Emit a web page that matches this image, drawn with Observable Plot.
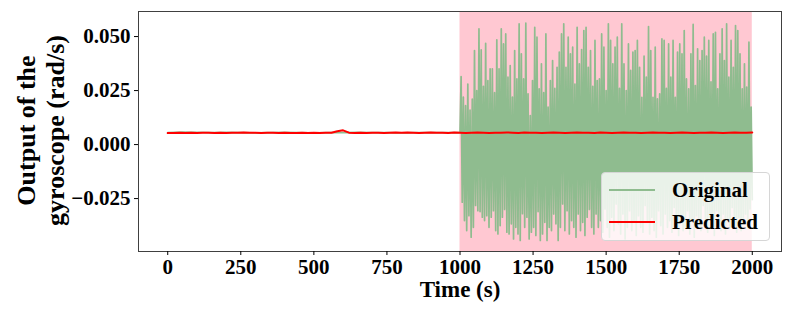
<!DOCTYPE html>
<html><head><meta charset="utf-8">
<script src="https://cdn.jsdelivr.net/npm/d3@7"></script>
<script src="https://cdn.jsdelivr.net/npm/@observablehq/plot@0.6"></script>
<style>
body{margin:0;background:#fff;}
#wrap{position:relative;width:793px;height:317px;font-family:"Liberation Serif","Times New Roman",serif;font-weight:bold;}
.legend{position:absolute;left:601px;top:172px;width:169px;height:69px;background:rgba(255,255,255,0.8);border:1px solid #d6d6d6;border-radius:4px;box-sizing:border-box;}
.item{position:absolute;left:0;height:24px;width:100%;}
.swatch{position:absolute;left:7px;width:46px;top:11px;}
.lbl{position:absolute;left:70px;top:0;font-size:21px;line-height:24px;color:#000;}
</style></head>
<body><div id="wrap"></div>
<script>
// x-axis ticks (s) and y-axis ticks (rad/s)
const xTicks = [0, 250, 500, 750, 1000, 1250, 1500, 1750, 2000];
const yTicks = [-0.025, 0, 0.025, 0.05];
// anomaly interval (s) shaded in pink
const anomalyRange = [1000, 2000];

// Original signal, quiet part: sampled every 50 s from 0 to 1000 s
const quietTimes = d3.range(0, 1001, 50);
const quietValues = [0.0055,0.0058,0.0057,0.0055,0.0056,0.0055,0.0054,0.0055,0.0056,0.0055,0.0054,0.0055,0.0055,0.0056,0.0055,0.0055,0.0054,0.0055,0.0055,0.0055,0.0055];

// Original signal, anomalous part (1000-2000 s): alternating peaks and troughs
const peakValues = [0.0315,0.022,0.018,0.028,0.016,0.021,0.0435,0.025,0.0536,0.0438,0.027,0.0469,0.0296,0.0351,0.0351,0.024,0.0485,0.0351,0.0536,0.0466,0.0512,0.0312,0.0366,0.022,0.0435,0.0304,0.0559,0.042,0.0304,0.0562,0.0235,0.0134,0.0296,0.0543,0.0497,0.0258,0.0374,0.024,0.0512,0.0173,0.0296,0.0389,0.026,0.0358,0.0428,0.0512,0.0559,0.0358,0.0497,0.042,0.0451,0.028,0.0543,0.0374,0.044,0.0528,0.0543,0.0358,0.0435,0.027,0.0482,0.0296,0.0304,0.0512,0.0451,0.025,0.0559,0.0482,0.0374,0.0451,0.0497,0.026,0.0559,0.0374,0.025,0.0466,0.0343,0.0428,0.0435,0.0482,0.0358,
0.0219,0.0409,0.0312,0.0546,0.0435,0.0219,0.0451,0.0212,0.0235,0.0489,0.0482,0.026,0.0466,0.0312,0.0482,0.0219,0.0428,0.0466,0.042,0.0528,0.0304,0.0258,0.042,0.0556,0.0273,0.0443,0.0389,0.0435,0.0497,0.0409,0.0482,0.029,0.0512,0.052,0.0258,0.042,0.0536,0.0389,0.0559,0.0312,0.0482,0.0358,0.0551,0.0528,0.042,0.0258,0.0374,0.0266,0.0474,0.0173];
const troughValues = [-0.0267,-0.0352,-0.0398,-0.0329,-0.0429,-0.0383,-0.0282,-0.0306,-0.031,-0.0336,-0.0352,-0.0329,-0.0383,-0.0336,-0.0306,-0.0398,-0.0414,-0.0375,-0.0336,-0.03,-0.0406,-0.0414,-0.0367,-0.0437,-0.0383,-0.0414,-0.0444,-0.032,-0.0383,-0.0336,-0.0437,-0.0406,-0.0383,-0.0421,-0.031,-0.0444,-0.0414,-0.036,-0.0444,-0.0383,-0.0398,-0.0321,-0.0367,-0.0444,-0.0383,-0.0275,-0.0398,-0.0306,-0.0414,-0.0352,-0.0383,-0.0429,-0.0321,-0.0398,-0.036,-0.0421,-0.0336,-0.03,-0.0383,-0.0414,-0.0321,-0.0383,
-0.0352,-0.0406,-0.0298,-0.0383,-0.0429,-0.0336,-0.0398,-0.0275,-0.0367,-0.0414,-0.0321,-0.0437,-0.0383,-0.0306,-0.0398,-0.0352,-0.0421,-0.0329,-0.0383,-0.0406,-0.0282,-0.036,-0.0414,-0.0336,-0.0398,-0.0429,-0.0306,-0.0375,-0.0414,-0.0321,-0.0383,-0.0352,-0.0406,-0.0291,-0.0367,-0.0421,-0.0336,-0.0398,-0.0383,-0.0306,-0.0414,-0.0352,-0.0429,-0.0329,-0.0375,-0.0398,-0.0282,-0.036,-0.0406,-0.0336,-0.0383,-0.0421,-0.0306,-0.0367,-0.0398,-0.0321,-0.0414,-0.0352,-0.0383,-0.0291,-0.0375,-0.0406,-0.0336,-0.0398,-0.036,-0.0321,-0.0383,-0.0298,-0.0255];

// Predicted signal, every 20 s from 0 to 2000 s
const predTimes = d3.range(0, 2001, 20);
const predValues = [0.0053,0.0054,0.0055,0.0054,0.0055,0.0054,0.0055,0.0055,0.0054,0.0055,0.0054,0.0055,0.0055,0.0056,0.0055,0.0055,0.0054,0.0055,0.0055,0.0054,
0.0055,0.0054,0.0054,0.0055,0.0054,0.0055,0.0054,0.0055,0.0055,0.0062,0.0066,0.0055,0.0054,0.0055,0.0054,0.0055,0.0055,0.0054,0.0055,0.0056,
0.0055,0.0056,0.0055,0.0054,0.0055,0.0056,0.0055,0.0055,0.0054,0.0056,0.0055,0.0054,0.0055,0.0056,0.0055,0.0054,0.0055,0.0055,0.0056,0.0055,
0.0054,0.0056,0.0055,0.0055,0.0054,0.0055,0.0056,0.0055,0.0054,0.0055,0.0056,0.0055,0.0055,0.0054,0.0056,0.0055,0.0054,0.0055,0.0056,0.0055,
0.0055,0.0054,0.0055,0.0056,0.0055,0.0055,0.0054,0.0055,0.0056,0.0055,0.0054,0.0055,0.0055,0.0056,0.0055,0.0054,0.0055,0.0056,0.0055,0.0055,0.0056];

// build tables
const original = quietTimes.map((t, i) => ({t, v: quietValues[i]}));
const nPairs = Math.min(peakValues.length, troughValues.length);
const anomalyVals = [];
for (let i = 0; i < nPairs; i++) { anomalyVals.push(peakValues[i], troughValues[i]); }
const step = (anomalyRange[1] - anomalyRange[0]) / anomalyVals.length;
anomalyVals.forEach((v, k) => original.push({t: anomalyRange[0] + (k + 1) * step, v}));
const predicted = predTimes.map((t, i) => ({t, v: predValues[i]}));

const chart = Plot.plot({
  width: 793, height: 317,
  marginLeft: 138, marginRight: 12, marginTop: 11, marginBottom: 66,
  x: {domain: [-100, 2100]},
  y: {domain: [-0.0495, 0.0616]},
  style: {fontFamily: "'Liberation Serif','Times New Roman',serif", fontWeight: "bold", fontSize: "21px", color: "#000", background: "#fff"},
  marks: [
    Plot.rect([anomalyRange], {x1: d => d[0], x2: d => d[1], fill: "#ffc8d2"}),
    Plot.line(original, {x: "t", y: "v", stroke: "#8fbc8f", strokeWidth: 1.7}),
    Plot.line(predicted, {x: "t", y: "v", stroke: "red", strokeWidth: 2}),
    Plot.frame({stroke: "#404040", strokeWidth: 1}),
    Plot.axisX({ticks: xTicks, tickSize: 4, tickPadding: 4, label: null, tickFormat: d => String(d)}),
    Plot.axisY({ticks: yTicks, tickSize: 4, tickPadding: 4, label: null, tickFormat: d3.format(".3f")}),
    Plot.text(["Time (s)"], {text: d => d, frameAnchor: "bottom", lineAnchor: "middle", dy: 38, fontSize: 23}),
    Plot.text(["Output of the"], {text: d => d, frameAnchor: "left", textAnchor: "middle", lineAnchor: "middle", rotate: -90, dx: -112, dy: -1, fontSize: 26}),
    Plot.text(["gyroscope (rad/s)"], {text: d => d, frameAnchor: "left", textAnchor: "middle", lineAnchor: "middle", rotate: -90, dx: -83, dy: -1, fontSize: 26})
  ]
});
const wrap = document.getElementById("wrap");
wrap.appendChild(chart);

const legendItems = [["Original", "#8fbc8f", 2], ["Predicted", "red", 2]];
const lg = document.createElement("div");
lg.className = "legend";
legendItems.forEach(([name, color, w], i) => {
  const it = document.createElement("div");
  it.className = "item";
  it.style.top = (5 + i * 32) + "px";
  it.innerHTML = `<div class="swatch" style="border-top:${w}px solid ${color}"></div><div class="lbl">${name}</div>`;
  lg.appendChild(it);
});
wrap.appendChild(lg);
</script></body></html>
